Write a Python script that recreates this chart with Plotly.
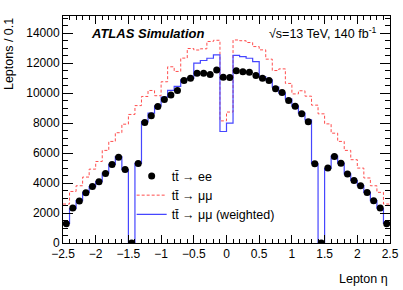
import plotly.graph_objects as go

# Binning (lepton eta, 50 bins of 0.1)
eta_lo = -2.5
bin_w = 0.1

# ttbar -> ee (points)
ee = [1290, 2330, 2800, 3350, 3770, 4090, 4640, 5240, 5730, 4910,
      0, 5310, 8040, 8490, 9110, 9570, 9870, 10170, 10840, 11000,
      11330, 11330, 11240, 11550, 11060, 11050, 11500, 11430, 11390, 11180,
      11000, 10850, 10300, 10050, 9510, 9130, 8620, 8100, 5290, 0,
      5000, 5780, 5330, 4600, 4170, 3820, 3370, 2820, 2330, 1290]

# ttbar -> mumu (unweighted, dashed red)
mumu = [2600, 3440, 3820, 4400, 4930, 5440, 6180, 6780, 7360, 7930,
        8580, 9170, 9780, 10180, 9830, 10760, 11760, 11450, 12340, 12980,
        12880, 12960, 13450, 13530, 8150, 8740, 13550, 13500, 13380, 13110,
        12890, 12270, 11510, 11620, 10650, 9950, 10160, 9800, 9200, 8620,
        7950, 7330, 6780, 6180, 5560, 5000, 4340, 3820, 3380, 2600]

# ttbar -> mumu (weighted, solid blue)
mumu_w = [1300, 2300, 2830, 3380, 3760, 4100, 4660, 5250, 5760, 4900,
          0, 5320, 8100, 8670, 9150, 9730, 10180, 10450, 10890, 11000,
          12000, 12180, 12330, 12560, 7440, 8000, 12520, 12440, 12330, 12110,
          11110, 10890, 10400, 10000, 9600, 9150, 8670, 8220, 5290, 0,
          4980, 5800, 5330, 4620, 4170, 3830, 3380, 2830, 2320, 1300]

labels = ["tt\u0304 \u2192 ee", "tt\u0304 \u2192 \u03bc\u03bc", "tt\u0304 \u2192 \u03bc\u03bc (weighted)"]

n = len(ee)
edges = [round(eta_lo + i * bin_w, 3) for i in range(n + 1)]
centers = [round(eta_lo + (i + 0.5) * bin_w, 3) for i in range(n)]

FONT = "Liberation Sans, Arial, Helvetica, sans-serif"

fig = go.Figure()
fig.add_trace(go.Scatter(x=edges, y=mumu + [mumu[-1]], mode="lines",
                         line=dict(shape="hv", color="#ff4d4d", dash="3px,2px", width=1),
                         name=labels[1], legendrank=2))
fig.add_trace(go.Scatter(x=edges, y=mumu_w + [mumu_w[-1]], mode="lines",
                         line=dict(shape="hv", color="#4646ff", width=1.2),
                         name=labels[2], legendrank=3))
fig.add_trace(go.Scatter(x=centers, y=ee, mode="markers",
                         marker=dict(color="black", size=7),
                         name=labels[0], legendrank=1))

axis_common = dict(showline=True, linecolor="black", linewidth=1, mirror="allticks",
                   ticks="inside", tickcolor="black", showgrid=False, zeroline=False,
                   automargin=False,
                   tickfont=dict(family=FONT, size=12, color="black"))

fig.update_layout(
    width=403, height=290, autosize=False,
    margin=dict(l=63, r=13, t=16, b=47),
    paper_bgcolor="white", plot_bgcolor="white",
    font=dict(family=FONT, color="black"),
    xaxis=dict(range=[-2.5, 2.5], tick0=-2.5, dtick=0.5, ticklen=8,
               minor=dict(dtick=0.1, ticklen=4, ticks="inside", tickcolor="black", showgrid=False),
               **axis_common),
    yaxis=dict(range=[0, 15150], tick0=0, dtick=2000, ticklen=10, tickformat="d",
               minor=dict(dtick=500, ticklen=5, ticks="inside", tickcolor="black", showgrid=False),
               **axis_common),
    legend=dict(x=0.21, y=0.36, xanchor="left", yanchor="top", bgcolor="rgba(0,0,0,0)",
                font=dict(family=FONT, size=12.5, color="black"), tracegroupgap=0),
    showlegend=True,
)

fig.add_annotation(text="<b><i>ATLAS Simulation</i></b>", xref="paper", yref="paper",
                   x=0.08, y=0.925, xanchor="left", yanchor="middle", showarrow=False,
                   font=dict(family=FONT, size=13, color="black"))
fig.add_annotation(text="\u221as=13 TeV, 140 fb<sup>-1</sup>", xref="paper", yref="paper",
                   x=0.965, y=0.925, xanchor="right", yanchor="middle", showarrow=False,
                   font=dict(family=FONT, size=12.5, color="black"))
fig.add_annotation(text="Lepton \u03b7", xref="paper", yref="paper",
                   x=1.0, y=-0.12, xanchor="right", yanchor="top", showarrow=False,
                   font=dict(family=FONT, size=12.5, color="black"))
fig.add_annotation(text="Leptons / 0.1", xref="paper", yref="paper", textangle=-90,
                   x=-0.165, y=1.0, xanchor="center", yanchor="top", showarrow=False,
                   font=dict(family=FONT, size=12.5, color="black"))

fig.write_html("out.html",
               config={"displayModeBar": False, "responsive": False},
               post_script="document.body.style.margin='0';document.body.style.overflow='hidden';")
